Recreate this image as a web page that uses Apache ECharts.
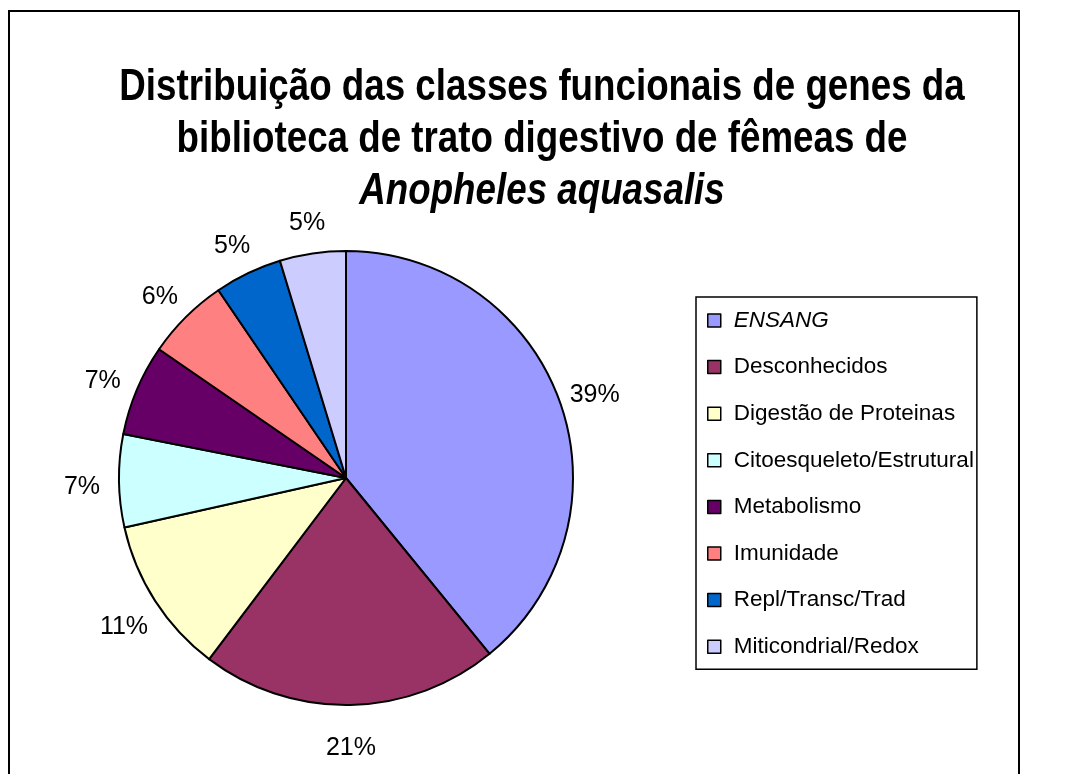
<!DOCTYPE html>
<html>
<head>
<meta charset="utf-8">
<title>Distribuição das classes funcionais</title>
<script src="https://cdn.jsdelivr.net/npm/echarts@6/dist/echarts.min.js"></script>
<style>
  html, body { margin: 0; padding: 0; background: #fff; }
  #main { width: 1067px; height: 774px; }
</style>
</head>
<body>
<div id="main"></div>
<script>
// classes funcionais e percentuais
var classes = ['ENSANG', 'Desconhecidos', 'Digestão de Proteinas', 'Citoesqueleto/Estrutural',
               'Metabolismo', 'Imunidade', 'Repl/Transc/Trad', 'Miticondrial/Redox'];
var valores = [39.1, 21.2, 11.2, 6.6, 6.5, 5.9, 4.8, 4.7];
var cores = ['#9999FF', '#993366', '#FFFFCC', '#CCFFFF', '#660066', '#FF8080', '#0066CC', '#CCCCFF'];
var titulo = ['Distribuição das classes funcionais de genes da',
              'biblioteca de trato digestivo de fêmeas de',
              'Anopheles aquasalis'];

var CX = 346, CY = 478;
var fonte = 'Liberation Sans, Arial, sans-serif';

var myChart = echarts.init(document.getElementById('main'));

var dados = classes.map(function (nome, i) {
    return { name: nome, value: valores[i], itemStyle: { color: cores[i] } };
});

// titulo em fonte "estreita": texto real, comprimido na horizontal
var tituloGraficos = titulo.map(function (linha, i) {
    return {
        type: 'text',
        x: 542,
        y: 88 + i * 52,
        originX: 0,
        scaleX: 0.835,
        style: {
            text: linha,
            fill: '#000',
            font: (i === 2 ? 'italic ' : '') + 'bold 44px ' + fonte,
            textAlign: 'center',
            textVerticalAlign: 'middle'
        }
    };
});

var option = {
    backgroundColor: '#fff',
    animation: false,
    legend: {
        orient: 'vertical',
        left: 696,
        top: 297,
        padding: [12, 3, 11, 11],
        borderColor: '#000',
        borderWidth: 1.5,
        itemWidth: 13,
        itemHeight: 13,
        itemGap: 23.6,
        icon: 'rect',
        data: classes,
        itemStyle: { borderColor: '#000', borderWidth: 1.5 },
        formatter: function (nome) {
            return nome === 'ENSANG' ? '{i|ENSANG}' : '{n|' + nome + '}';
        },
        textStyle: {
            rich: {
                i: { fontSize: 22.5, fontStyle: 'italic', fontFamily: fonte, color: '#000', lineHeight: 22, padding: [0, 0, 0, 8] },
                n: { fontSize: 22.5, fontFamily: fonte, color: '#000', lineHeight: 22, padding: [0, 0, 0, 8] }
            }
        }
    },
    graphic: [{
        type: 'polyline',
        shape: { points: [[9, 774], [9, 11], [1019, 11], [1019, 774]] },
        style: { stroke: '#000', lineWidth: 2, fill: null }
    }].concat(tituloGraficos),
    series: [{
        type: 'pie',
        center: [CX, CY],
        radius: 227,
        startAngle: 90,
        clockwise: true,
        avoidLabelOverlap: false,
        itemStyle: { borderColor: '#000', borderWidth: 2 },
        label: {
            position: 'outside',
            fontSize: 25,
            fontFamily: fonte,
            color: '#000',
            formatter: function (p) {
                return Math.round(p.percent) + '%';
            }
        },
        labelLine: { show: true, length: 10, length2: 0, lineStyle: { width: 0, opacity: 0 } },
        labelLayout: function (params) {
            var pts = params.labelLinePoints;
            if (!pts) return {};
            var dx = pts[0][0] - CX, dy = pts[0][1] - CY;
            var len = Math.sqrt(dx * dx + dy * dy);
            var d = 37;
            return {
                x: pts[0][0] + dx / len * d,
                y: pts[0][1] + dy / len * d + 6,
                align: 'center',
                verticalAlign: 'middle'
            };
        },
        emphasis: { disabled: true },
        data: dados
    }]
};

myChart.setOption(option);
</script>
</body>
</html>
